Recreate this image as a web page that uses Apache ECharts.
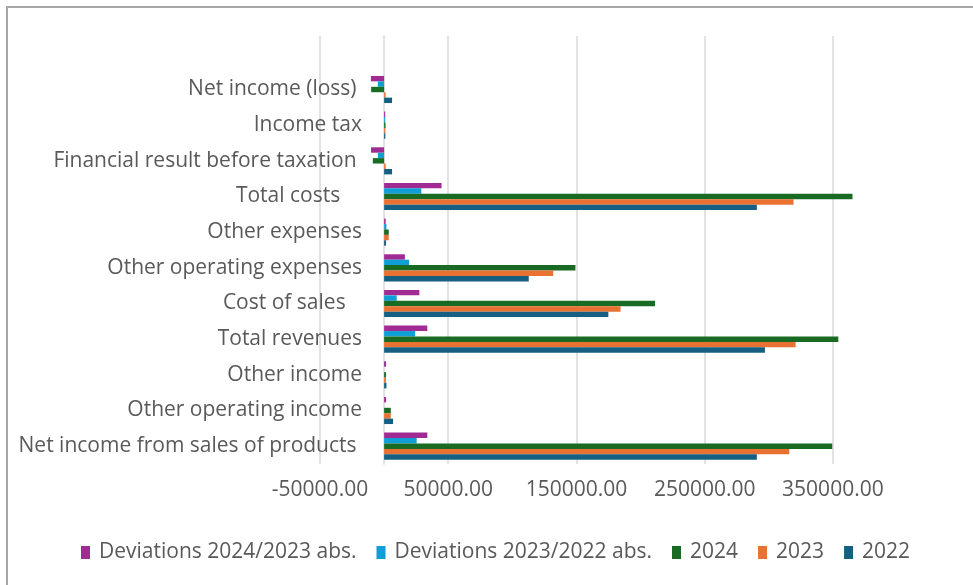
<!DOCTYPE html>
<html>
<head>
<meta charset="utf-8">
<script src="https://cdn.jsdelivr.net/npm/echarts@6/dist/echarts.min.js"></script>
<style>
html,body{margin:0;padding:0;background:#fff;}
#chart{width:973px;height:585px;}
</style>
</head>
<body>
<div id="chart"></div>
<script>
// Categories listed bottom to top (the last one is an empty row in the source sheet)
const categories = [
  'Net income from sales of products ',
  'Other operating income',
  'Other income',
  'Total revenues',
  'Cost of sales   ',
  'Other operating expenses',
  'Other expenses',
  'Total costs    ',
  'Financial result before taxation ',
  'Income tax',
  'Net income (loss) ',
  ''
];
const values2022 = [290700, 7000, 1800, 297000, 174900, 112800, 1500, 290700, 6200, 1000, 6200, null];
const values2023 = [316000, 5200, 1500, 320900, 184400, 131900, 3600, 319300, 1200, 1000, 1200, null];
const values2024 = [349500, 5200, 1500, 354200, 211300, 149200, 3600, 365300, -8800, 1100, -10100, null];
const dev2023_2022 = [25400, 0, 0, 24200, 9800, 19500, 1800, 29000, -4900, 900, -4900, null];
const dev2024_2023 = [33700, 1500, 1500, 33700, 27500, 16200, 1200, 44800, -10200, 900, -10300, null];
const legendOrder = ['Deviations 2024/2023 abs.', 'Deviations 2023/2022 abs.', '2024', '2023', '2022'];
const xTicks = { min: -50000, max: 400000, interval: 100000 };

// series drawn top-to-bottom within each category group
const seriesDefs = [
  { name: 'Deviations 2024/2023 abs.', data: dev2024_2023, color: '#A02B93' },
  { name: 'Deviations 2023/2022 abs.', data: dev2023_2022, color: '#0F9ED5' },
  { name: '2024', data: values2024, color: '#196B24' },
  { name: '2023', data: values2023, color: '#E97132' },
  { name: '2022', data: values2022, color: '#156082' }
];
const FONT = '"Open Sans", sans-serif';
const FS = 21;

const chart = echarts.init(document.getElementById('chart'), null, { renderer: 'canvas' });
chart.setOption({
  animation: false,
  backgroundColor: '#ffffff',
  graphic: [{
    type: 'rect',
    shape: { x: 7, y: 7, width: 1100, height: 1100 },
    style: { fill: 'none', stroke: '#a6a6a6', lineWidth: 2 },
    silent: true
  }],
  grid: { left: 320, right: 76, top: 36, bottom: 121, containLabel: false, outerBoundsMode: 'none' },
  legend: {
    data: legendOrder,
    left: 76,
    top: 537,
    icon: 'rect',
    itemWidth: 9,
    itemHeight: 13,
    itemGap: 20,
    textStyle: { fontFamily: FONT, fontSize: FS, color: '#595959', padding: [0, 0, 0, 4] }
  },
  xAxis: {
    type: 'value',
    min: xTicks.min,
    max: xTicks.max,
    interval: xTicks.interval,
    axisLine: { show: false },
    axisTick: { show: false },
    splitLine: { show: true, showMaxLine: false, lineStyle: { color: '#d9d9d9', width: 1.5 } },
    axisLabel: {
      showMaxLabel: false,
      margin: 16,
      fontFamily: FONT,
      fontSize: FS,
      color: '#595959',
      formatter: v => v.toFixed(2)
    }
  },
  yAxis: {
    type: 'category',
    data: categories,
    axisLine: { show: true, onZero: true, lineStyle: { color: '#d9d9d9', width: 1.5 } },
    axisTick: { show: false },
    axisLabel: { margin: -42, fontFamily: FONT, fontSize: FS, color: '#595959' }
  },
  series: seriesDefs.map(s => ({
    name: s.name,
    type: 'bar',
    data: s.data,
    itemStyle: { color: s.color },
    barGap: '0%',
    barCategoryGap: '24%'
  }))
});
</script>
</body>
</html>
